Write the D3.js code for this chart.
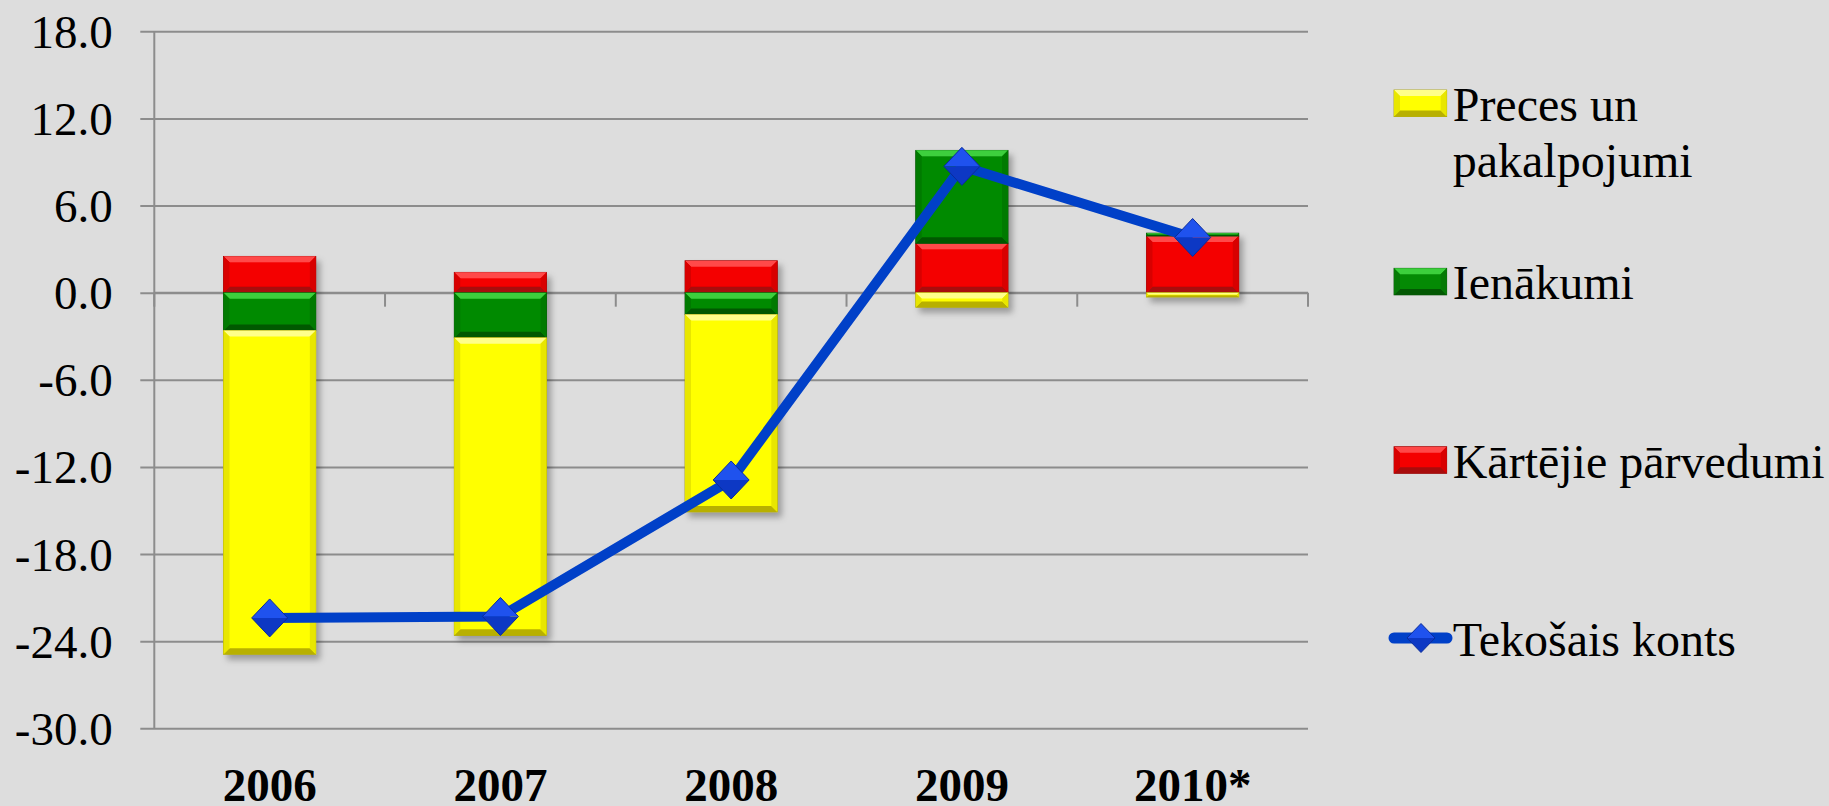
<!DOCTYPE html>
<html>
<head>
<meta charset="utf-8">
<script src="https://cdn.jsdelivr.net/npm/d3@7"></script>
<style>
  html, body { margin: 0; padding: 0; background: #dddddd; }
  svg { display: block; }
</style>
</head>
<body>
<svg id="chart" width="1829" height="806"></svg>
<script>
// chart data
const years = ["2006", "2007", "2008", "2009", "2010*"];
const goods = [-22.3, -20.5, -13.6, -1.0, -0.3];      // Preces un pakalpojumi
const income = [-2.6, -3.1, -1.5, 6.4, 0.2];          // Ienākumi
const transfers = [2.5, 1.4, 2.2, 3.4, 3.9];          // Kārtējie pārvedumi
const current = [-22.4, -22.3, -12.9, 8.7, 3.8];      // Tekošais konts
const yTicks = [-30, -24, -18, -12, -6, 0, 6, 12, 18];

const seriesNames = {
  goods: "Preces un pakalpojumi",
  income: "Ienākumi",
  transfers: "Kārtējie pārvedumi",
  current: "Tekošais konts"
};

const palette = {
  goods:     { base: "#ffff00", light: "#ffff8a", dark: "#b8b000", side: "#e8e600", edge: "#a8a000" },
  income:    { base: "#048a04", light: "#3ccf3c", dark: "#035803", side: "#067a06", edge: "#024a02" },
  transfers: { base: "#f40000", light: "#ff4848", dark: "#a80c0c", side: "#d80000", edge: "#8a0000" }
};

const FONT = "'Liberation Serif'";
const svg = d3.select("#chart");
const plotLeft = 154.3, plotRight = 1308, plotTop = 31.3, plotBottom = 728.3;

const x = d3.scaleBand().domain(years).range([plotLeft, plotRight])
  .paddingInner(0.6).paddingOuter(0.3);
const y = d3.scaleLinear().domain([-30, 18]).range([plotBottom, plotTop]);

// shadow filter for the columns
const defs = svg.append("defs");
const shadow = defs.append("filter").attr("id", "shadow")
  .attr("x", "-20%").attr("y", "-20%").attr("width", "140%").attr("height", "140%");
shadow.append("feDropShadow").attr("dx", 4).attr("dy", 5)
  .attr("stdDeviation", 3).attr("flood-color", "#000").attr("flood-opacity", 0.3);

// gridlines + y labels
const yAxis = d3.axisLeft(y).tickValues(yTicks)
  .tickSize(plotRight - 140.3).tickPadding(27.6)
  .tickFormat(d => d.toFixed(1));
const gy = svg.append("g").attr("transform", `translate(${plotRight},0)`).call(yAxis);
gy.select(".domain").remove();
gy.selectAll(".tick line").attr("stroke", "#8c8c8c").attr("stroke-width", 2);
gy.selectAll(".tick text")
  .attr("font-size", 47).attr("dy", "0.34em")
  .style("font-family", FONT)
  .attr("fill", "#000");

// y axis line
svg.append("line")
  .attr("x1", plotLeft).attr("x2", plotLeft).attr("y1", plotTop).attr("y2", plotBottom)
  .attr("stroke", "#8c8c8c").attr("stroke-width", 2);

// x axis at zero with category boundary ticks
const bounds = d3.range(years.length + 1).map(i => x.range()[0] + i * x.step());
svg.append("line")
  .attr("x1", plotLeft).attr("x2", plotRight).attr("y1", y(0)).attr("y2", y(0))
  .attr("stroke", "#8c8c8c").attr("stroke-width", 2);
svg.append("g").selectAll("line").data(bounds).join("line")
  .attr("x1", d => d).attr("x2", d => d)
  .attr("y1", y(0)).attr("y2", y(0) + 14)
  .attr("stroke", "#8c8c8c").attr("stroke-width", 2);

// stacked columns
const rows = years.map((yr, i) => ({
  year: yr, transfers: transfers[i], income: income[i], goods: goods[i]
}));
const keys = ["transfers", "income", "goods"];
const stack = d3.stack().keys(keys).offset(d3.stackOffsetDiverging)(rows);

function bevelRect(g, x0, y0, x1, y1, c) {
  const h = y1 - y0;
  if (h <= 0.2) return;
  const b = Math.min(6, h / 2.5, (x1 - x0) / 4);
  g.append("rect").attr("x", x0).attr("y", y0).attr("width", x1 - x0).attr("height", h)
    .attr("fill", c.base).attr("stroke", c.edge).attr("stroke-width", 0.8);
  const poly = (pts, fill) => g.append("polygon")
    .attr("points", pts.map(p => p.join(",")).join(" ")).attr("fill", fill);
  poly([[x0, y0], [x1, y0], [x1 - b, y0 + b], [x0 + b, y0 + b]], c.light);
  poly([[x0, y1], [x1, y1], [x1 - b, y1 - b], [x0 + b, y1 - b]], c.dark);
  poly([[x0, y0], [x0 + b, y0 + b], [x0 + b, y1 - b], [x0, y1]], c.side);
  poly([[x1, y0], [x1 - b, y0 + b], [x1 - b, y1 - b], [x1, y1]], c.side);
}

const barsG = svg.append("g").attr("filter", "url(#shadow)");
stack.forEach(layer => {
  layer.forEach(seg => {
    const x0 = x(seg.data.year), x1 = x0 + x.bandwidth();
    const ya = y(seg[1]), yb = y(seg[0]);
    bevelRect(barsG.append("g"), x0, Math.min(ya, yb), x1, Math.max(ya, yb), palette[layer.key]);
  });
});

// current account line
const cx = (d, i) => x(years[i]) + x.bandwidth() / 2;
const line = d3.line().x((d, i) => cx(d, i)).y(d => y(d));
svg.append("path").datum(current)
  .attr("d", line).attr("fill", "none")
  .attr("stroke", "#0040c8").attr("stroke-width", 10)
  .attr("stroke-linejoin", "round");

function diamond(g, px, py, w, h) {
  g.append("polygon")
    .attr("points", `${px},${py - h} ${px + w},${py} ${px - w},${py}`)
    .attr("fill", "#1f52ee");
  g.append("polygon")
    .attr("points", `${px - w},${py} ${px + w},${py} ${px},${py + h}`)
    .attr("fill", "#0d38c4");
  g.append("polygon")
    .attr("points", `${px},${py - h} ${px + w},${py} ${px},${py + h} ${px - w},${py}`)
    .attr("fill", "none").attr("stroke", "#0a2c9c").attr("stroke-width", 1);
}
const markers = svg.append("g");
current.forEach((v, i) => diamond(markers, cx(v, i), y(v), 18, 19));

// category labels
svg.append("g").selectAll("text").data(years).join("text")
  .attr("x", d => x(d) + x.bandwidth() / 2)
  .attr("y", 801)
  .attr("text-anchor", "middle")
  .attr("font-size", 47).attr("font-weight", "bold")
  .style("font-family", FONT)
  .text(d => d);

// legend
const legend = svg.append("g");
const legendRows = [
  { key: "goods", cy: 103.3 },
  { key: "income", cy: 281.6 },
  { key: "transfers", cy: 460 },
  { key: "current", cy: 638 }
];
legendRows.forEach(r => {
  const g = legend.append("g");
  if (r.key === "current") {
    g.append("line").attr("x1", 1394).attr("x2", 1447)
      .attr("y1", r.cy).attr("y2", r.cy)
      .attr("stroke", "#0040c8").attr("stroke-width", 11).attr("stroke-linecap", "round");
    diamond(g, 1421, r.cy, 14, 14.5);
  } else {
    bevelRect(g, 1394, r.cy - 13.3, 1446.7, r.cy + 13.3, palette[r.key]);
  }
  const t = g.append("text").attr("x", 1452.7).attr("y", r.cy + 17.5)
    .attr("font-size", 48).style("font-family", FONT);
  if (r.key === "goods") {
    t.text("Preces un");
    g.append("text").attr("x", 1452.7).attr("y", r.cy + 74)
      .attr("font-size", 48).style("font-family", FONT).text("pakalpojumi");
  } else {
    t.text(seriesNames[r.key]);
  }
});
</script>
</body>
</html>
